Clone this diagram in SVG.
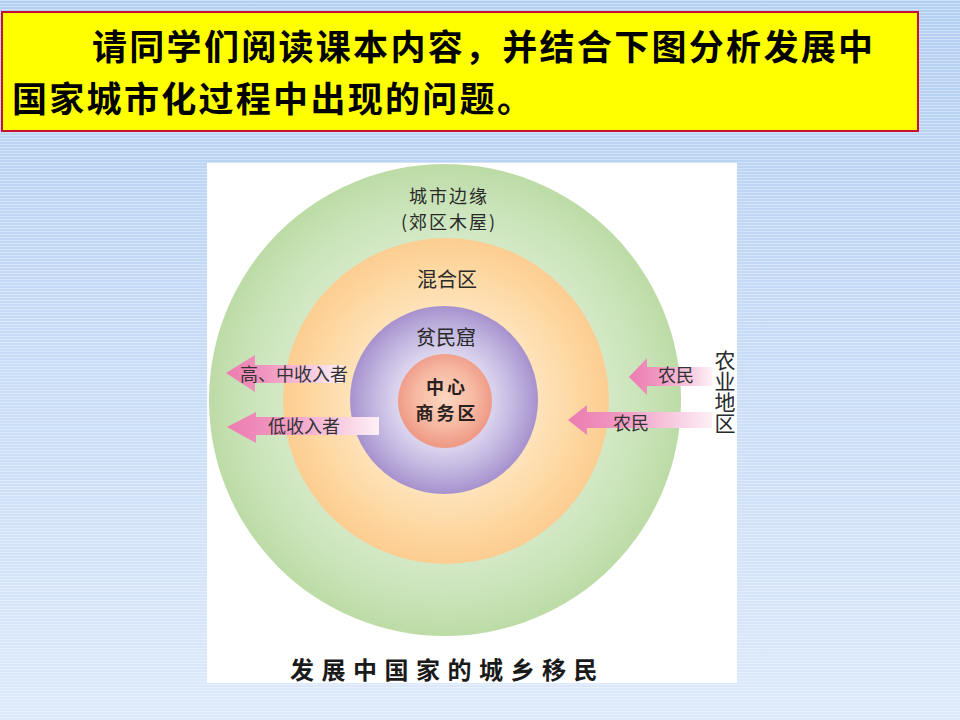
<svg xmlns="http://www.w3.org/2000/svg" width="960" height="720" viewBox="0 0 960 720">
  <defs>
    <linearGradient id="bg" x1="0" y1="0" x2="0" y2="1">
      <stop offset="0" stop-color="#b3cff2"/>
      <stop offset="1" stop-color="#dce9fb"/>
    </linearGradient>
    <pattern id="stripes" width="8" height="3" patternUnits="userSpaceOnUse">
      <rect x="0" y="0" width="8" height="1" fill="#ffffff" opacity="0.35"/>
    </pattern>
    <radialGradient id="gGreen" cx="445" cy="400" r="236" gradientUnits="userSpaceOnUse">
      <stop offset="0.69" stop-color="#d3e9c6"/>
      <stop offset="0.85" stop-color="#c9e3b8"/>
      <stop offset="1" stop-color="#bcdba5"/>
    </radialGradient>
    <radialGradient id="gOrange" cx="446" cy="400" r="163" gradientUnits="userSpaceOnUse">
      <stop offset="0.58" stop-color="#fee2b9"/>
      <stop offset="0.8" stop-color="#fdd8a2"/>
      <stop offset="1" stop-color="#fccd91"/>
    </radialGradient>
    <radialGradient id="gPurple" cx="444" cy="400" r="94" gradientUnits="userSpaceOnUse">
      <stop offset="0.5" stop-color="#dcd5ee"/>
      <stop offset="0.75" stop-color="#c2b6e0"/>
      <stop offset="1" stop-color="#a692cd"/>
    </radialGradient>
    <radialGradient id="gPink" cx="445" cy="398" r="48" gradientUnits="userSpaceOnUse">
      <stop offset="0" stop-color="#fcd6c0"/>
      <stop offset="0.6" stop-color="#f7b9a2"/>
      <stop offset="1" stop-color="#ee9a86"/>
    </radialGradient>
    <linearGradient id="arrowL" x1="0" y1="0" x2="1" y2="0">
      <stop offset="0" stop-color="#ec7cb0"/>
      <stop offset="0.35" stop-color="#f097c1"/>
      <stop offset="1" stop-color="#fdf0f6"/>
    </linearGradient>
    <style>
      .title { font-family: "Noto Sans CJK SC", "Noto Sans", sans-serif; font-size: 35px; font-weight: bold; fill: #000; letter-spacing: 2.3px; }
      .lbl { font-family: "Noto Sans CJK SC", "Noto Sans", sans-serif; font-size: 20px; fill: #2a2a2a; text-anchor: middle; }
      .lbl2 { font-family: "Noto Sans CJK SC", "Noto Sans", sans-serif; font-size: 18px; fill: #2a2a2a; text-anchor: middle; letter-spacing: 2px; }
      .core { font-family: "Noto Sans CJK SC", "Noto Sans", sans-serif; font-size: 18px; font-weight: bold; fill: #2a2020; text-anchor: middle; letter-spacing: 3px; }
      .arr { font-family: "Noto Sans CJK SC", "Noto Sans", sans-serif; font-size: 18px; fill: #333; }
      .vert { font-family: "Noto Sans CJK SC", "Noto Sans", sans-serif; font-size: 21px; fill: #2a2a2a; writing-mode: vertical-rl; }
      .cap { font-family: "Noto Sans CJK SC", "Noto Sans", sans-serif; font-size: 24px; font-weight: bold; fill: #1a1a1a; letter-spacing: 7.5px; }
    </style>
  </defs>

  <!-- background -->
  <rect x="0" y="0" width="960" height="720" fill="url(#bg)"/>
  <rect x="0" y="0" width="960" height="720" fill="url(#stripes)"/>

  <!-- title box -->
  <g id="title">
    <rect x="2" y="12" width="916" height="119" fill="#ffff00" stroke="#c8102e" stroke-width="2"/>
    <text class="title" x="92" y="60">请同学们阅读课本内容，并结合下图分析发展中</text>
    <text class="title" x="12" y="112">国家城市化过程中出现的问题。</text>
  </g>

  <!-- picture panel -->
  <rect x="207" y="163" width="530" height="520" fill="#ffffff"/>

  <g id="urban-fringe">
    <circle cx="445" cy="400" r="236" fill="url(#gGreen)"/>
    <text class="lbl2" x="449" y="203">城市边缘</text>
    <text class="lbl2" x="449" y="229">(郊区木屋)</text>
  </g>
  <g id="mixed-zone">
    <circle cx="446" cy="401" r="163" fill="url(#gOrange)"/>
    <text class="lbl" x="447" y="287">混合区</text>
  </g>
  <g id="slum">
    <circle cx="444" cy="400" r="94" fill="url(#gPurple)"/>
    <text class="lbl" x="446" y="345">贫民窟</text>
  </g>
  <g id="cbd">
    <circle cx="445" cy="401" r="47" fill="url(#gPink)"/>
    <text class="core" x="447" y="394">中心</text>
    <text class="core" x="447" y="420">商务区</text>
  </g>

  <g id="connectors">
    <g id="arrow-high-mid-income">
      <polygon points="226,373 255,355 255,365 343,365 343,383 255,383 255,392" fill="url(#arrowL)"/>
      <text class="arr" x="240" y="381">高、中收入者</text>
    </g>
    <g id="arrow-low-income">
      <polygon points="227,427 256,412 256,417 379,417 379,435 256,435 256,443" fill="url(#arrowL)"/>
      <text class="arr" x="268" y="433">低收入者</text>
    </g>
    <g id="arrow-farmers-1">
      <polygon points="629,377 647,358 647,367 712,367 712,386 647,386 647,395" fill="url(#arrowL)"/>
      <text class="arr" x="658" y="382">农民</text>
    </g>
    <g id="arrow-farmers-2">
      <polygon points="568,420 587,405 587,412 712,412 712,428 587,428 587,435" fill="url(#arrowL)"/>
      <text class="arr" x="613" y="430">农民</text>
    </g>
  </g>

  <g id="agricultural-area">
    <text class="vert" x="725" y="350">农业地区</text>
  </g>

  <g id="caption">
    <text class="cap" x="290" y="679">发展中国家的城乡移民</text>
  </g>
</svg>
